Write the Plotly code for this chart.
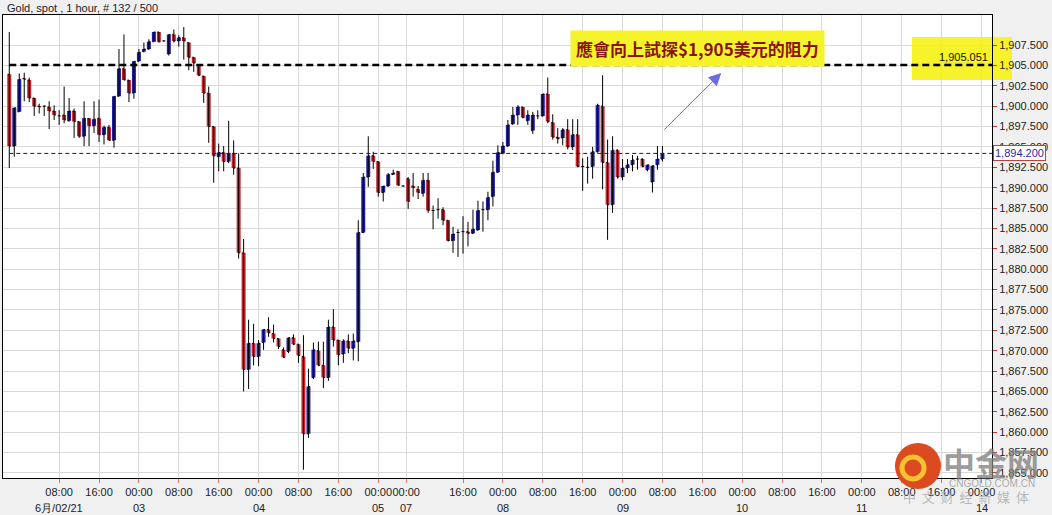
import plotly.graph_objects as go

# ---------------- data ----------------
title_text = "Gold, spot , 1 hour, # 132 / 500"

# hourly bar index (0 = first bar shown)
bar_idx = list(range(132))

open_ = [1903.9, 1895.1, 1899.3, 1903.4, 1903.2, 1901.0, 1900.0, 1900.0, 1899.9, 1899.4,
         1898.8, 1898.9, 1898.2, 1899.4, 1898.1, 1896.3, 1898.5, 1897.6, 1898.5, 1896.5,
         1897.4, 1895.8, 1901.2, 1904.6, 1903.2, 1901.6, 1905.5, 1906.7, 1907.0, 1907.9,
         1909.1, 1908.0, 1906.4, 1908.8, 1908.0, 1908.4, 1907.8, 1906.0, 1905.0, 1903.7,
         1901.6, 1897.5, 1893.8, 1894.3, 1893.2, 1894.2, 1892.4, 1882.0, 1867.7, 1870.9,
         1869.3, 1871.0, 1872.6, 1872.1, 1871.5, 1870.1, 1869.9, 1871.6, 1870.8, 1869.3,
         1859.8, 1866.7, 1870.0, 1868.2, 1866.7, 1872.9, 1871.3, 1869.6, 1871.2, 1870.3,
         1871.1, 1884.5, 1891.3, 1893.9, 1893.2, 1889.4, 1890.2, 1891.6, 1892.0, 1890.2,
         1891.1, 1890.2, 1889.8, 1889.3, 1890.9, 1887.2, 1887.3, 1887.3, 1886.0, 1883.5,
         1884.5, 1884.6, 1884.6, 1884.4, 1884.8, 1887.3, 1887.3, 1888.9, 1891.9, 1894.2,
         1895.1, 1897.8, 1898.9, 1899.9, 1898.2, 1897.0, 1898.8, 1898.8, 1901.5, 1898.0,
         1896.2, 1896.1, 1897.1, 1895.0, 1896.5, 1892.6, 1892.5, 1892.6, 1894.4, 1900.0,
         1893.1, 1887.9, 1894.6, 1891.3, 1892.4, 1892.8, 1893.5, 1893.5, 1892.2, 1890.7,
         1892.8, 1893.5]

high = [1909.1, 1899.8, 1904.0, 1904.1, 1903.5, 1901.0, 1900.3, 1900.1, 1900.6, 1900.1,
        1899.5, 1902.4, 1901.0, 1899.7, 1898.1, 1900.6, 1898.5, 1900.6, 1900.8, 1897.6,
        1897.7, 1901.2, 1907.0, 1908.8, 1903.2, 1905.5, 1907.0, 1907.8, 1908.2, 1909.1,
        1909.1, 1908.1, 1908.8, 1909.4, 1908.7, 1909.7, 1907.8, 1906.0, 1905.0, 1903.7,
        1902.4, 1897.5, 1895.4, 1895.1, 1898.2, 1895.8, 1894.2, 1883.7, 1873.8, 1873.3,
        1871.3, 1872.6, 1874.1, 1873.2, 1871.5, 1870.4, 1871.6, 1872.0, 1870.8, 1871.9,
        1867.8, 1871.0, 1871.1, 1871.1, 1873.8, 1875.1, 1871.3, 1871.4, 1872.0, 1872.1,
        1886.0, 1891.8, 1896.3, 1894.4, 1893.2, 1890.2, 1891.8, 1892.2, 1892.0, 1890.3,
        1891.3, 1891.8, 1890.2, 1891.8, 1891.8, 1887.8, 1888.7, 1887.6, 1886.0, 1885.2,
        1884.9, 1886.5, 1885.8, 1887.3, 1888.4, 1888.3, 1889.5, 1893.3, 1895.2, 1895.6,
        1898.3, 1899.9, 1900.1, 1899.9, 1899.5, 1899.3, 1899.5, 1901.5, 1903.5, 1899.0,
        1897.3, 1897.3, 1898.4, 1898.4, 1898.4, 1893.6, 1893.8, 1895.0, 1900.3, 1903.8,
        1895.9, 1896.3, 1894.7, 1893.5, 1893.5, 1894.0, 1893.9, 1893.6, 1892.8, 1892.7,
        1895.1, 1895.1]

low = [1892.4, 1893.8, 1899.3, 1900.6, 1900.5, 1898.8, 1899.1, 1898.8, 1897.2, 1898.3,
       1897.7, 1897.9, 1898.1, 1896.1, 1896.1, 1895.1, 1895.1, 1896.7, 1895.6, 1895.3,
       1895.8, 1894.9, 1901.2, 1903.2, 1900.5, 1900.9, 1905.5, 1906.6, 1906.9, 1907.9,
       1907.8, 1907.9, 1906.2, 1907.8, 1907.3, 1905.7, 1904.4, 1904.2, 1903.7, 1900.4,
       1895.5, 1890.6, 1892.0, 1892.0, 1893.0, 1891.6, 1881.3, 1865.0, 1865.3, 1868.2,
       1868.1, 1870.1, 1871.7, 1871.0, 1870.2, 1869.1, 1869.7, 1870.7, 1868.5, 1855.4,
       1859.3, 1866.5, 1868.1, 1865.4, 1866.3, 1870.5, 1868.2, 1868.5, 1869.7, 1868.8,
       1868.7, 1884.4, 1890.1, 1892.3, 1888.9, 1888.3, 1890.1, 1891.6, 1890.2, 1890.1,
       1887.4, 1888.9, 1888.6, 1888.9, 1886.9, 1884.9, 1886.2, 1885.4, 1883.4, 1882.0,
       1881.5, 1881.9, 1882.8, 1884.3, 1884.7, 1884.6, 1886.0, 1887.7, 1891.8, 1894.1,
       1895.0, 1897.7, 1897.7, 1898.5, 1897.7, 1896.6, 1898.4, 1898.7, 1897.9, 1895.9,
       1895.4, 1895.2, 1894.7, 1894.6, 1892.5, 1889.6, 1890.5, 1891.1, 1894.3, 1889.8,
       1883.6, 1886.9, 1891.1, 1890.9, 1891.8, 1892.0, 1892.2, 1892.5, 1892.0, 1889.4,
       1892.2, 1893.2]

close = [1895.1, 1899.8, 1903.3, 1903.3, 1901.0, 1900.0, 1899.9, 1900.0, 1899.4, 1898.9,
         1898.8, 1898.3, 1899.4, 1898.1, 1896.3, 1898.5, 1897.6, 1898.4, 1896.5, 1897.4,
         1895.8, 1901.2, 1904.6, 1903.2, 1901.6, 1905.5, 1906.6, 1907.0, 1907.9, 1909.1,
         1907.9, 1908.0, 1908.8, 1908.0, 1908.4, 1908.0, 1906.0, 1905.3, 1903.8, 1901.6,
         1897.5, 1893.9, 1894.3, 1893.2, 1894.2, 1892.4, 1882.0, 1867.7, 1870.9, 1869.3,
         1870.9, 1872.6, 1872.2, 1871.5, 1870.5, 1869.2, 1871.6, 1870.8, 1869.4, 1859.8,
         1865.6, 1870.1, 1868.2, 1866.7, 1872.9, 1871.3, 1869.5, 1871.2, 1870.3, 1871.2,
         1884.5, 1891.3, 1893.9, 1893.2, 1889.4, 1890.2, 1891.6, 1891.8, 1890.3, 1890.2,
         1888.3, 1890.0, 1889.4, 1890.9, 1887.2, 1887.2, 1887.3, 1886.0, 1883.5, 1884.3,
         1884.5, 1884.6, 1884.4, 1884.9, 1887.2, 1887.3, 1888.8, 1891.9, 1894.3, 1895.1,
         1897.7, 1898.9, 1899.9, 1898.6, 1898.9, 1898.9, 1898.8, 1901.5, 1898.1, 1896.2,
         1896.0, 1897.1, 1895.0, 1896.5, 1892.6, 1892.6, 1892.5, 1894.4, 1900.1, 1893.1,
         1887.9, 1894.6, 1891.3, 1892.4, 1892.8, 1893.4, 1893.5, 1892.6, 1892.8, 1892.7,
         1893.5, 1894.2]

# x-axis: time ticks (bar positions) and date labels
x_tick_pos = [10, 18, 26, 34, 42, 50, 58, 66, 74, 79.6, 91, 99, 107, 115, 123, 131,
              139, 147, 155, 163, 171, 179, 187, 195]
x_tick_text = ["08:00", "16:00", "00:00", "08:00", "16:00", "00:00", "08:00", "16:00",
               "00:00", "00:00", "16:00", "00:00", "08:00", "16:00", "00:00", "08:00",
               "16:00", "00:00", "08:00", "16:00", "00:00", "08:00", "16:00", "00:00"]
date_pos = [10, 26, 50, 74, 79.6, 99, 123, 147, 171, 195]
date_text = ["6月/02/21", "03", "04", "05", "07", "08", "09", "10", "11", "14"]

y_ticks = [1855.0, 1857.5, 1860.0, 1862.5, 1865.0, 1867.5, 1870.0, 1872.5, 1875.0,
           1877.5, 1880.0, 1882.5, 1885.0, 1887.5, 1890.0, 1892.5, 1895.0, 1897.5,
           1900.0, 1902.5, 1905.0, 1907.5]

x_range = [-1.26, 197.1]
y_range = [1854.38, 1911.18]

resistance_level = 1905.051
last_price = 1894.200
note_text = "應會向上試探$1,905美元的阻力"
arrow_tail = (131.1, 1896.95)
arrow_head = (142.8, 1904.07)

# ---------------- styles ----------------
RED = "#c1272d"
BLUE = "#1f1fa0"
YELLOW = "#f6f32a"
FONT = "Liberation Sans, Arial, sans-serif"

fig = go.Figure()

# wicks (black high-low lines)
fig.add_trace(go.Ohlc(
    x=bar_idx, open=open_, high=high, low=low, close=close,
    tickwidth=0.3,
    increasing=dict(line=dict(color="black", width=1)),
    decreasing=dict(line=dict(color="black", width=1)),
    showlegend=False, hoverinfo="skip",
))
# bodies
fig.add_trace(go.Candlestick(
    x=bar_idx, open=open_, high=high, low=low, close=close,
    increasing=dict(fillcolor=BLUE, line=dict(color=BLUE, width=0)),
    decreasing=dict(fillcolor=RED, line=dict(color=RED, width=0)),
    whiskerwidth=0,
    showlegend=False, hoverinfo="skip",
))

shapes = [
    # yellow highlight around the 1,905.051 label
    dict(type="rect", xref="paper", yref="paper", x0=0.9191, x1=1.0202, y0=0.8596, y1=0.9525,
         fillcolor=YELLOW, line=dict(width=0), layer="below"),
    # resistance line
    dict(type="line", xref="x", yref="y", x0=bar_idx[0], x1=x_range[1],
         y0=resistance_level, y1=resistance_level,
         line=dict(color="black", width=2.5, dash="7px,4px"), layer="above"),
    # last price line
    dict(type="line", xref="x", yref="y", x0=bar_idx[0], x1=x_range[1],
         y0=last_price, y1=last_price,
         line=dict(color="#1a1a40", width=1, dash="4px,3px"), layer="above"),
    # watermark logo
    dict(type="circle", xref="paper", yref="paper", x0=0.9019, x1=0.9484, y0=-0.0238, y1=0.0756,
         fillcolor="#dc4a1f", line=dict(width=0), layer="above"),
    dict(type="circle", xref="paper", yref="paper", x0=0.909, x1=0.9313, y0=-0.0022, y1=0.0454,
         fillcolor="rgba(0,0,0,0)", line=dict(color="#f7c231", width=5), layer="above"),
]

annotations = [
    dict(xref="paper", yref="paper", x=0.002, y=1.015, xanchor="left", yanchor="middle",
         text=title_text, showarrow=False, font=dict(size=11, color="#222222", family=FONT)),
    dict(xref="paper", yref="paper", x=0.7027, y=0.9266, xanchor="center", yanchor="middle",
         text="<b>" + note_text + "</b>", showarrow=False, bgcolor=YELLOW, borderpad=5,
         font=dict(size=17, color="#8a1414", family="Noto Sans CJK TC")),
    dict(xref="x", yref="y", x=arrow_head[0], y=arrow_head[1],
         axref="x", ayref="y", ax=arrow_tail[0], ay=arrow_tail[1],
         text="", showarrow=True, arrowhead=2, arrowsize=2.5, arrowwidth=1,
         arrowcolor="#6c6ce4"),
    dict(xref="paper", yref="y", x=0.998, y=resistance_level, xanchor="right", yanchor="bottom",
         text="1,905.051", showarrow=False, font=dict(size=11, color="#111111", family=FONT)),
    dict(xref="paper", yref="y", x=1.001, y=last_price, xanchor="left", yanchor="middle",
         text="1,894.200", showarrow=False, bgcolor="white", bordercolor="#c04040",
         borderwidth=1, borderpad=1, font=dict(size=11, color="#2a2aa0", family=FONT)),
    # watermark text
    dict(xref="paper", yref="paper", x=0.999, y=0.0346, xanchor="center", yanchor="middle",
         text="<b>中金网</b>", showarrow=False,
         font=dict(size=32, color="rgba(130,130,130,0.8)", family="Noto Sans CJK SC")),
    dict(xref="paper", yref="paper", x=1.0, y=-0.0108, xanchor="center", yanchor="middle",
         text="CNGOLD.COM.CN", showarrow=False,
         font=dict(size=10, color="rgba(150,150,150,0.8)", family=FONT)),
    dict(xref="paper", yref="paper", x=0.9737, y=-0.041, xanchor="center", yanchor="middle",
         text="\u00a0\u00a0".join("中文财经新媒体"), showarrow=False,
         font=dict(size=13, color="rgba(170,170,170,0.8)", family="Noto Sans CJK SC")),
]
for p, t in zip(date_pos, date_text):
    annotations.append(dict(xref="x", yref="paper", x=p, y=-0.0648, xanchor="center",
                            yanchor="middle", text=t, showarrow=False,
                            font=dict(size=11, color="#222222", family=FONT)))

fig.update_layout(
    width=1052, height=515,
    margin=dict(l=3, r=60, t=15, b=37),
    paper_bgcolor="#f0f0f0", plot_bgcolor="white",
    font=dict(family=FONT, size=11, color="#222222"),
    boxgap=0.2, boxgroupgap=0,
    showlegend=False,
    shapes=shapes, annotations=annotations,
    xaxis=dict(range=x_range, tickmode="array", tickvals=x_tick_pos, ticktext=x_tick_text,
               tickangle=0, showgrid=True, gridcolor="#d9d9d9", gridwidth=1,
               ticks="outside", ticklen=4, tickcolor="#e07070",
               showline=True, linecolor="black", linewidth=1, mirror=True,
               zeroline=False, rangeslider=dict(visible=False),
               tickfont=dict(size=11, color="#222222")),
    yaxis=dict(range=y_range, side="right", tickmode="array", tickvals=y_ticks,
               tickformat=",.3f", showgrid=True, gridcolor="#d9d9d9", gridwidth=1,
               ticks="outside", ticklen=4, tickcolor="#d03030",
               showline=True, linecolor="black", linewidth=1, mirror=True,
               zeroline=False, tickfont=dict(size=11, color="#222222")),
)

fig.write_html("out.html",
               config={"displayModeBar": False},
               post_script="document.body.style.margin='0px';document.body.style.background='#f0f0f0';")
